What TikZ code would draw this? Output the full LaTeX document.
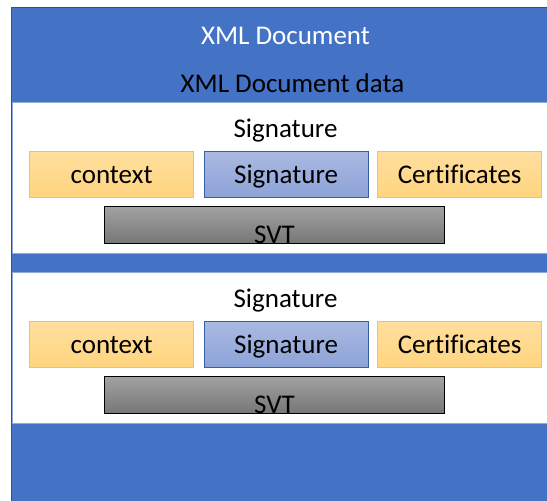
\documentclass[tikz,border=0pt]{standalone}
\usepackage{fontspec}
\setmainfont[Ligatures=NoCommon]{Carlito}
\definecolor{docblue}{HTML}{4472C4}
\definecolor{docedge}{HTML}{2F528F}
\definecolor{paneledge}{HTML}{8EA9DB}
\definecolor{ctxtop}{HTML}{FFDF9E}
\definecolor{ctxbot}{HTML}{FFD47E}
\definecolor{ctxedge}{HTML}{FFC720}
\definecolor{sigtop}{HTML}{AAB9E1}
\definecolor{sigbot}{HTML}{8CA3D8}
\definecolor{svttop}{HTML}{A2A2A2}
\definecolor{svtbot}{HTML}{767676}
\tikzset{
  x=1pt, y=-1pt,
  txt/.style={font=\fontsize{27}{32}\selectfont, inner sep=0pt},
  part/.style={txt, draw, line width=1.2pt, minimum width=164pt, minimum height=46pt,
    text height=18pt, text depth=0pt, anchor=north west},
  ctxbox/.style={part, draw=ctxedge, top color=ctxtop, bottom color=ctxbot},
  sigbox/.style={part, draw=docedge!60!docblue, top color=sigtop, bottom color=sigbot},
  svtbox/.style={draw=black, line width=1pt, top color=svttop, bottom color=svtbot,
    minimum width=340pt, minimum height=37pt, anchor=north west, inner sep=0pt},
  panel/.style={draw=paneledge, fill=white, line width=1pt},
}
\begin{document}
\begin{tikzpicture}
\useasboundingbox (0,0) rectangle (547,501);
\begin{scope}
\clip (0,0) rectangle (547,501);
% document frame
\fill[docblue] (11,7) rectangle (600,520);
\draw[docedge, line width=1.5pt] (11.5,520) -- (11.5,7.5) -- (600,7.5);
\node[txt, text=white, anchor=base] (doc) at (285.5,44) {XML Document};
\node[txt, anchor=base] (data) at (292.5,92) {XML Document data};

% two signature panels
\foreach \dy/\k in {0/1,170/2}{
  \begin{scope}[yshift=-\dy pt]
    \draw[panel] (12,102) rectangle (600,253);
    \node[txt, anchor=base] (title\k) at (285.5,137) {Signature};
    \node[ctxbox] (ctx\k) at (29,151) {context};
    \node[sigbox] (sig\k) at (203.5,151) {Signature};
    \node[ctxbox] (cert\k) at (377,151) {Certificates};
    \node[svtbox] (svt\k) at (104,206) {};
    \node[txt, anchor=base] (svtlabel\k) at ([yshift=1pt]svt\k.south) {SVT};
  \end{scope}
}
\end{scope}
\end{tikzpicture}
\end{document}
